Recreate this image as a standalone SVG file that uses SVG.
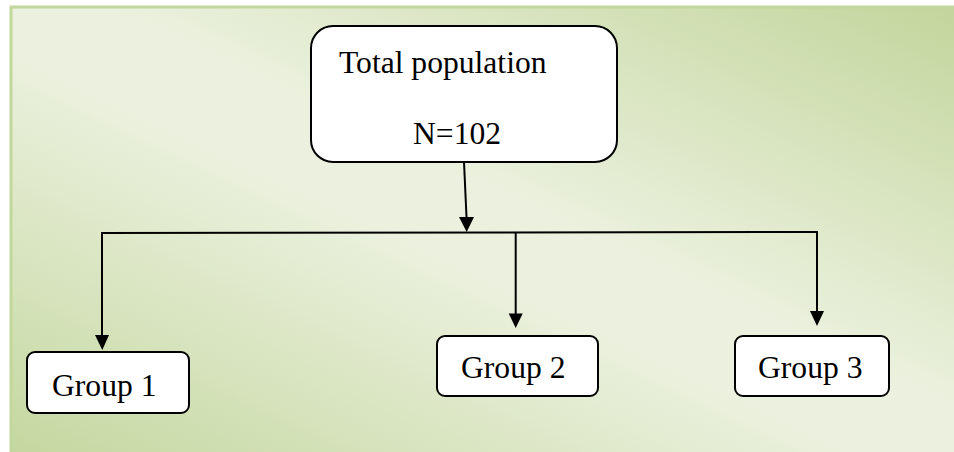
<svg xmlns="http://www.w3.org/2000/svg" width="954" height="452" viewBox="0 0 954 452">
<defs>
<linearGradient id="bg" x1="0" y1="1" x2="1" y2="0">
<stop offset="0" stop-color="#c5d7a0"/>
<stop offset="0.45" stop-color="#ebf1de"/>
<stop offset="0.55" stop-color="#ebf1de"/>
<stop offset="1" stop-color="#c3d59c"/>
</linearGradient>
<style>
.box{fill:#fff;stroke:#000;stroke-width:2}
.lbl{font-family:"Liberation Serif","Times New Roman",serif;font-size:31.6px;fill:#000}
.con{fill:none;stroke:#000;stroke-width:2}
.head{fill:#000}
</style>
</defs>
<rect x="0" y="0" width="954" height="452" fill="#fff"/>
<rect x="10" y="6" width="944" height="446" fill="url(#bg)"/>
<path d="M11,452 V7 H954" fill="none" stroke="#c2d79b" stroke-width="3"/>
<g id="connectors">
<path class="con" d="M464,162 L466.5,217"/>
<path class="head" d="M459,217 L474,217 L466.7,232 Z"/>
<path class="con" d="M102,336 V233 L817,232 V312"/>
<path class="con" d="M515.7,233 V314"/>
<path class="head" d="M95,335 L109,335 L102.3,350 Z"/>
<path class="head" d="M508.7,313.5 L522.7,313.5 L515.7,328 Z"/>
<path class="head" d="M810,311 L824,311 L817,326 Z"/>
</g>
<g id="total">
<rect class="box" x="311" y="26" width="306" height="136" rx="22"/>
<text class="lbl" x="339" y="73">Total population</text>
<text class="lbl" x="413" y="144">N=102</text>
</g>
<g id="group1">
<rect class="box" x="27" y="352" width="162" height="61" rx="8"/>
<text class="lbl" x="52" y="396">Group 1</text>
</g>
<g id="group2">
<rect class="box" x="437" y="336" width="161" height="60" rx="8"/>
<text class="lbl" x="461" y="378">Group 2</text>
</g>
<g id="group3">
<rect class="box" x="735" y="336" width="154" height="60" rx="8"/>
<text class="lbl" x="758" y="378">Group 3</text>
</g>
</svg>
